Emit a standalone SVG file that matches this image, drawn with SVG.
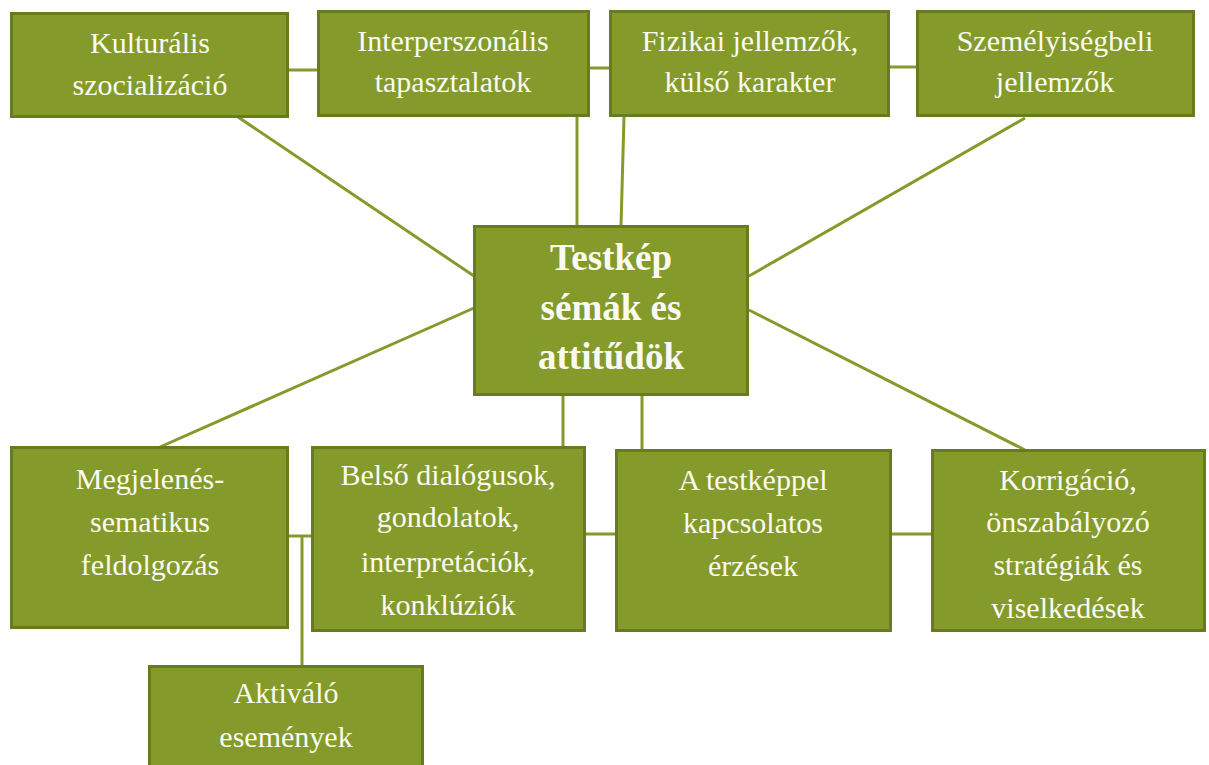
<svg xmlns="http://www.w3.org/2000/svg" width="1209" height="765" viewBox="0 0 1209 765">
<style>
.box{fill:#849A2B;stroke:#687B1E;stroke-width:3}
.t{font-family:"Liberation Serif","DejaVu Serif",serif;font-size:30px;fill:#FAFAF2;text-anchor:middle}
.tb{font-family:"Liberation Serif","DejaVu Serif",serif;font-size:37px;font-weight:bold;fill:#FAFAF2;text-anchor:middle}
.c{stroke:#849A2B;stroke-width:3;fill:none}
</style>
<rect width="1209" height="765" fill="#FFFFFF"/>
<g id="connectors">
<line class="c" x1="289" y1="70" x2="317" y2="70"/>
<line class="c" x1="590" y1="68" x2="609" y2="68"/>
<line class="c" x1="890" y1="67" x2="916" y2="67"/>
<line class="c" x1="238" y1="117" x2="474" y2="276"/>
<line class="c" x1="577" y1="117" x2="577" y2="226"/>
<line class="c" x1="624" y1="117" x2="621" y2="226"/>
<line class="c" x1="1025" y1="118" x2="749" y2="276"/>
<line class="c" x1="160" y1="447" x2="474" y2="308"/>
<line class="c" x1="749" y1="310" x2="1025" y2="450"/>
<line class="c" x1="563" y1="395" x2="563" y2="447"/>
<line class="c" x1="642" y1="395" x2="642" y2="450"/>
<line class="c" x1="289" y1="536" x2="311" y2="536"/>
<line class="c" x1="302" y1="536" x2="302" y2="666"/>
<line class="c" x1="586" y1="534" x2="615" y2="534"/>
<line class="c" x1="892" y1="534" x2="931" y2="534"/>
</g>
<g id="kulturalis">
<rect class="box" x="11.5" y="13.5" width="276" height="103"/>
<text class="t" x="150" y="53">Kulturális</text>
<text class="t" x="150" y="95">szocializáció</text>
</g>
<g id="interperszonalis">
<rect class="box" x="318.5" y="11.5" width="270" height="104"/>
<text class="t" x="453" y="51">Interperszonális</text>
<text class="t" x="453" y="92">tapasztalatok</text>
</g>
<g id="fizikai">
<rect class="box" x="610.5" y="11.5" width="278" height="104"/>
<text class="t" x="750" y="51">Fizikai jellemzők,</text>
<text class="t" x="750" y="92">külső karakter</text>
</g>
<g id="szemelyiseg">
<rect class="box" x="917.5" y="11.5" width="276" height="104"/>
<text class="t" x="1055" y="51">Személyiségbeli</text>
<text class="t" x="1055" y="92">jellemzők</text>
</g>
<g id="center">
<rect class="box" x="474.5" y="226.5" width="273" height="168"/>
<text class="tb" x="611" y="270">Testkép</text>
<text class="tb" x="611" y="320">sémák és</text>
<text class="tb" x="611" y="369">attitűdök</text>
</g>
<g id="megjelenes">
<rect class="box" x="11.5" y="447.5" width="276" height="180"/>
<text class="t" x="150" y="489">Megjelenés-</text>
<text class="t" x="150" y="532">sematikus</text>
<text class="t" x="150" y="575">feldolgozás</text>
</g>
<g id="belso">
<rect class="box" x="312.5" y="447.5" width="272" height="183"/>
<text class="t" x="448" y="485">Belső dialógusok,</text>
<text class="t" x="448" y="527">gondolatok,</text>
<text class="t" x="448" y="572">interpretációk,</text>
<text class="t" x="448" y="615">konklúziók</text>
</g>
<g id="erzesek">
<rect class="box" x="616.5" y="450.5" width="274" height="180"/>
<text class="t" x="753" y="490">A testképpel</text>
<text class="t" x="753" y="533">kapcsolatos</text>
<text class="t" x="753" y="576">érzések</text>
</g>
<g id="korrigacio">
<rect class="box" x="932.5" y="450.5" width="272" height="180"/>
<text class="t" x="1068" y="490">Korrigáció,</text>
<text class="t" x="1068" y="532">önszabályozó</text>
<text class="t" x="1068" y="575">stratégiák és</text>
<text class="t" x="1068" y="618">viselkedések</text>
</g>
<g id="aktivalo">
<rect class="box" x="149.5" y="666.5" width="273" height="110"/>
<text class="t" x="286" y="703">Aktiváló</text>
<text class="t" x="286" y="747">események</text>
</g>
</svg>
